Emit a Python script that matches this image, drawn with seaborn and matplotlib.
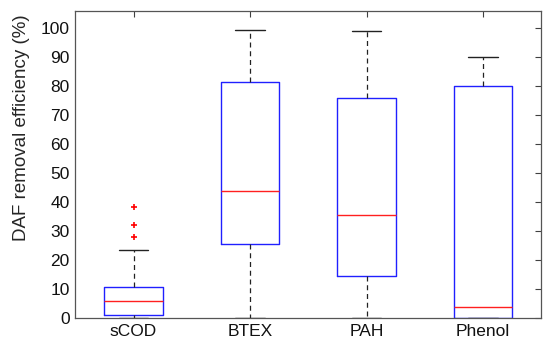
import matplotlib
matplotlib.use("Agg")
import matplotlib.pyplot as plt
import seaborn as sns

# values (%)
groups = ["sCOD", "BTEX", "PAH", "Phenol"]
whisker_low = [0.0, 0.0, 0.0, 0.0]
q1 = [0.9, 25.5, 14.5, 0.0]
median = [5.8, 43.8, 35.7, 3.7]
q3 = [10.8, 81.6, 76.0, 80.0]
whisker_high = [23.5, 99.5, 99.0, 90.1]
outliers = [[27.9, 32.2, 38.3], [], [], []]

sns.set_style("white")
plt.rcParams['font.family'] = ['Liberation Sans', 'DejaVu Sans']

stats = []
for i, g in enumerate(groups):
    stats.append({
        'label': g,
        'whislo': whisker_low[i],
        'q1': q1[i],
        'med': median[i],
        'q3': q3[i],
        'whishi': whisker_high[i],
        'fliers': outliers[i],
    })

fig = plt.figure(figsize=(5.5, 3.42), dpi=100)
ax = fig.add_axes([0.137, 0.070, 0.847, 0.898])

ax.bxp(stats, positions=[1, 2, 3, 4], widths=0.5,
       boxprops=dict(color='#2020ff', linewidth=1.0),
       medianprops=dict(color='#ff2020', linewidth=1.0),
       whiskerprops=dict(color='#222222', linestyle=(0, (4, 3)), linewidth=0.9),
       capprops=dict(color='#222222', linewidth=1.0),
       flierprops=dict(marker='+', markeredgecolor='red', markersize=4,
                       markeredgewidth=1.2, linestyle='none'))

ax.set_xlim(0.5, 4.5)
ax.set_ylim(0, 106)
ax.set_yticks(range(0, 101, 10))
ax.set_xticks([1, 2, 3, 4])
ax.set_xticklabels(groups)
ax.set_ylabel("DAF removal efficiency (%)", fontsize=13.5)
ax.yaxis.set_label_coords(-0.098, 0.62)

ax.tick_params(direction='in', length=4, width=0.8, color='#404040',
               top=True, right=True, labelsize=12.5, labelcolor='#111111', pad=4)
for s in ax.spines.values():
    s.set_color('#555555')
    s.set_linewidth(0.9)

fig.savefig("out.png", dpi=100)
